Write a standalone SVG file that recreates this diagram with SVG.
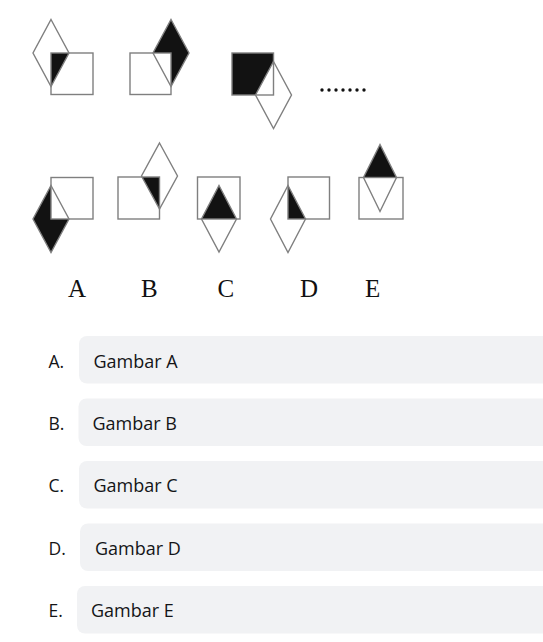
<svg xmlns="http://www.w3.org/2000/svg" width="543" height="642" viewBox="0 0 543 642">
<style>
.sq{fill:none;stroke:#7f7f7f;stroke-width:1.4}
.dm{fill:none;stroke:#7f7f7f;stroke-width:1.4;stroke-linejoin:miter}
.blk{fill:#121212}
.let{font-family:"Liberation Serif","Times New Roman",serif;font-size:25px;fill:#111}
.box{fill:#f1f2f4}
.lab{font-family:"Open Sans","Noto Sans",sans-serif;font-size:17.5px;fill:#141517}
.txt{font-family:"Open Sans","Noto Sans",sans-serif;font-size:18px;fill:#141517}
.dot{fill:#111}
</style>
<rect width="543" height="642" fill="#ffffff"/>
<g id="fig1">
<polygon class="blk" points="51,53 69,53 51,86.5"/>
<rect class="sq" x="51" y="53" width="42" height="41.5"/>
<polygon class="dm" points="51,19.5 69,53 51,86.5 33,53"/>
</g>
<g id="fig2">
<polygon class="blk" points="171,19.5 189,53 171,86.5 171,53 153,53"/>
<rect class="sq" x="130" y="53" width="41" height="41.5"/>
<polygon class="dm" points="171,19.5 189,53 171,86.5 153,53"/>
</g>
<g id="fig3">
<polygon class="blk" points="232,53 273.5,53 273.5,61.5 255.5,95 232,95"/>
<rect class="sq" x="232" y="53" width="41.5" height="42"/>
<polygon class="dm" points="273.5,61.5 291.5,95 273.5,128.5 255.5,95"/>
</g>
<g id="dots">
<circle class="dot" cx="322" cy="90" r="1.7"/>
<circle class="dot" cx="329" cy="90" r="1.7"/>
<circle class="dot" cx="336" cy="90" r="1.7"/>
<circle class="dot" cx="343" cy="90" r="1.7"/>
<circle class="dot" cx="350" cy="90" r="1.7"/>
<circle class="dot" cx="357" cy="90" r="1.7"/>
<circle class="dot" cx="364" cy="90" r="1.7"/>
</g>
<g id="optA">
<polygon class="blk" points="51,185.5 33,219 51,252.5 69,219 51,219"/>
<rect class="sq" x="51" y="177.5" width="42" height="41.5"/>
<polygon class="dm" points="51,185.5 69,219 51,252.5 33,219"/>
</g>
<g id="optB">
<polygon class="blk" points="142,177 159.5,177 159.5,209"/>
<rect class="sq" x="118" y="177" width="41.5" height="42"/>
<polygon class="dm" points="159.5,143 177.5,176 159.5,209 141.5,176"/>
</g>
<g id="optC">
<polygon class="blk" points="219,185.5 201.5,219 236.5,219"/>
<rect class="sq" x="197.5" y="177" width="42.5" height="42"/>
<polygon class="dm" points="219,185.5 236.5,219 219,252 201.5,219"/>
</g>
<g id="optD">
<polygon class="blk" points="288,185.5 288,219 305.5,219"/>
<rect class="sq" x="288" y="177" width="41.5" height="42"/>
<polygon class="dm" points="288,185.5 305.5,219 288,252.5 270.5,219"/>
</g>
<g id="optE">
<polygon class="blk" points="380,144.5 363.5,177.5 396.5,177.5"/>
<rect class="sq" x="359" y="177.5" width="44" height="41.5"/>
<polygon class="dm" points="380,144.5 396.5,177.5 380,211.5 363.5,177.5"/>
</g>
<g id="letters">
<text class="let" x="68" y="297">A</text>
<text class="let" x="141" y="297">B</text>
<text class="let" x="217.5" y="297">C</text>
<text class="let" x="300" y="297">D</text>
<text class="let" x="365" y="297">E</text>
</g>
<g id="choiceA">
<rect class="box" x="79" y="336" width="480" height="47.5" rx="8"/>
<text class="lab" x="48.5" y="368">A.</text>
<text class="txt" x="93.5" y="368">Gambar A</text>
</g>
<g id="choiceB">
<rect class="box" x="78.5" y="398.5" width="480" height="47.5" rx="8"/>
<text class="lab" x="48.5" y="430">B.</text>
<text class="txt" x="92.5" y="430">Gambar B</text>
</g>
<g id="choiceC">
<rect class="box" x="79" y="461" width="480" height="47.5" rx="8"/>
<text class="lab" x="48.5" y="492">C.</text>
<text class="txt" x="93.5" y="492">Gambar C</text>
</g>
<g id="choiceD">
<rect class="box" x="80" y="523.5" width="480" height="47.5" rx="8"/>
<text class="lab" x="48.5" y="555">D.</text>
<text class="txt" x="95" y="555">Gambar D</text>
</g>
<g id="choiceE">
<rect class="box" x="77" y="586" width="480" height="47.5" rx="8"/>
<text class="lab" x="48.5" y="617">E.</text>
<text class="txt" x="91" y="617">Gambar E</text>
</g>
</svg>
